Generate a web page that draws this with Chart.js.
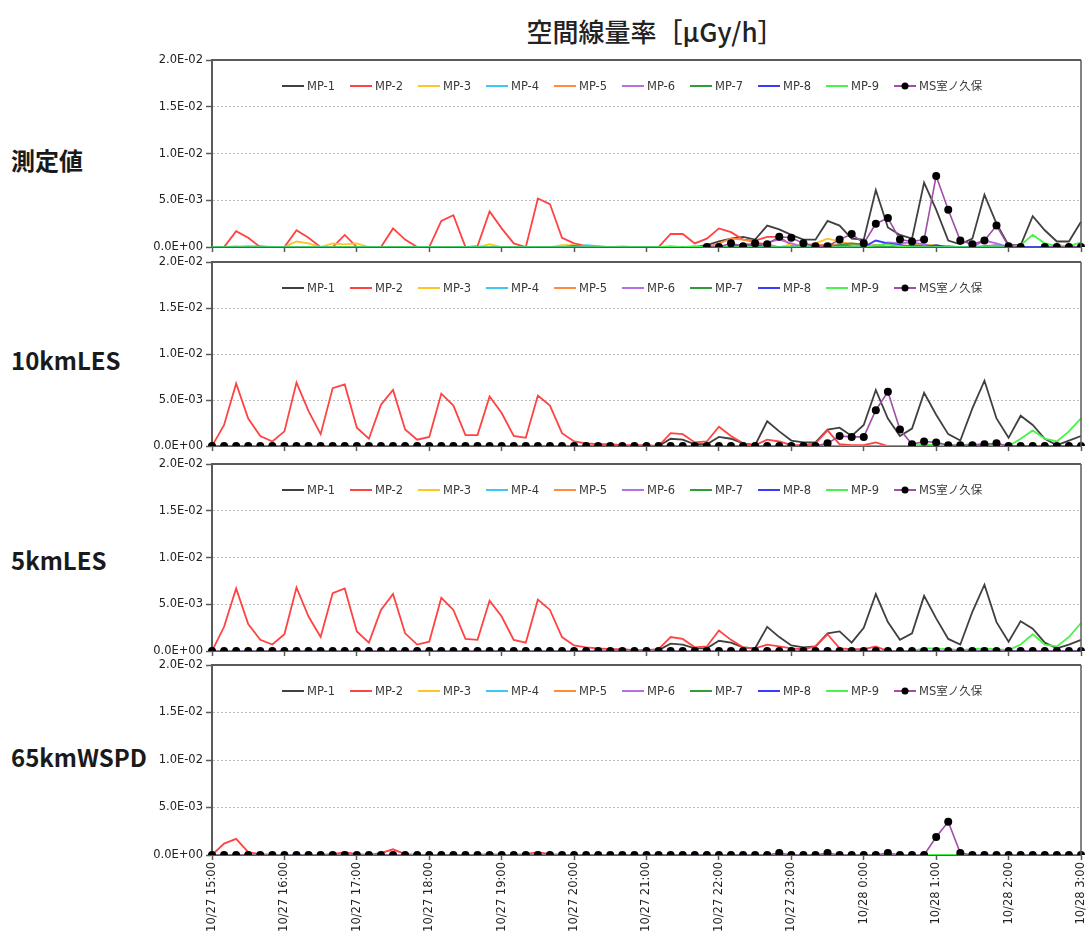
<!DOCTYPE html>
<html>
<head>
<meta charset="utf-8">
<script src="https://cdn.jsdelivr.net/npm/chart.js@4.4.1/dist/chart.umd.min.js"></script>
<style>
  body { margin: 0; background: #fff; }
  #wrap { position: relative; width: 1090px; height: 932px; overflow: hidden; background: #fff; }
  #wrap canvas { position: absolute; left: 140px; }
  .title { position: absolute; left: 455px; top: 12px; width: 400px; text-align: center;
           font: 500 26px "Noto Sans CJK JP", sans-serif; color: #222; }
  .side { position: absolute; left: 11px; font: bold 24px "Noto Sans CJK JP", sans-serif; color: #1a1a1a;
          line-height: 30px; height: 30px; }
</style>
</head>
<body>
<div id="wrap">
  <div class="title">空間線量率［μGy/h］</div>
  <div class="side" style="top:145px">測定値</div>
  <div class="side" style="top:345px">10kmLES</div>
  <div class="side" style="top:545px">5kmLES</div>
  <div class="side" style="top:742px">65kmWSPD</div>
  <canvas id="c0"></canvas>
  <canvas id="c1"></canvas>
  <canvas id="c2"></canvas>
  <canvas id="c3"></canvas>
</div>
<script>
const hours = ["10/27 15:00","10/27 16:00","10/27 17:00","10/27 18:00","10/27 19:00","10/27 20:00",
               "10/27 21:00","10/27 22:00","10/27 23:00","10/28 0:00","10/28 1:00","10/28 2:00","10/28 3:00"];
const seriesNames = ["MP-1","MP-2","MP-3","MP-4","MP-5","MP-6","MP-7","MP-8","MP-9","MS室ノ久保"];
const seriesColors = ["#404040","#ff4242","#ffc526","#3cc8f0","#ff8c3c","#b46ee6","#2f9e3a","#3a3aff","#4cf24c","#a04ea8"];
const yTicks = [0, 0.005, 0.01, 0.015, 0.02];

// one row = one hour (10 minute steps), last row = 3:00
const zeroLine = [
  0,0,0,0,0,0, 0,0,0,0,0,0, 0,0,0,0,0,0, 0,0,0,0,0,0, 0,0,0,0,0,0, 0,0,0,0,0,0,
  0,0,0,0,0,0, 0,0,0,0,0,0, 0,0,0,0,0,0, 0,0,0,0,0,0, 0,0,0,0,0,0, 0,0,0,0,0,0, 0];

// 測定値
const measMP1 = [
  0,0,0,0,0,0, 0,0,0,0,0,0, 0,0,0,0,0,0, 0,0,0,0,0,0, 0,0,0,0,0,0, 0,0,0,0,0,0,
  0,0,0,0,0,.0002,
  .0006,.0009,.0011,.0008,.0023,.0019,
  .0013,.0008,.0008,.0028,.0023,.0009,
  .0008,.0061,.0021,.0013,.0009,.0069,
  .004,.0007,.0003,.0009,.0056,.0025,
  .0002,.0002,.0033,.0018,.0006,.0006,
  .0027];
const measMP2 = [
  0,0,.0017,.001,0,0,
  0,.0018,.001,0,0,.0013,
  0,0,0,.002,.0008,0,
  0,.0028,.0034,0,.0001,.0038,
  .002,.0004,0,.0052,.0046,.001,
  .0004,.0001,0,0,0,0,
  0,0,.0014,.0014,.0004,.0009,
  .002,.0016,.0008,.0007,.0011,.0011,
  .0002,.0001,.0001,.0003,.0002,.0001,
  .0001,.0002,0,.0002,.0001,0,
  0,.0001,0,0,.0001,.0002,
  0,0,0,0,0,.0001,
  0];
const measMP3 = [
  0,0,.0001,0,0,0,
  0,.0006,.0004,0,.0004,.0003,
  .0004,0,0,0,0,0,
  0,0,0,0,0,.0003,
  0,0,0,0,0,.0002,
  .0002,0,0,0,.0001,0,
  0,0,0,0,0,0,
  0,0,.0003,.0004,0,0,
  .0003,.0002,.0004,.0009,.0006,.0003,
  0,0,0,0,.0002,.0003,
  .0002,0,0,0,0,.0001,
  0,0,0,0,.0002,.0001,
  0];
const measMP4 = [
  0,0,0,.0001,0,0, 0,0,0,0,0,0, 0,0,0,0,0,0, 0,0,0,0,0,0, 0,0,0,0,0,0, 0,.0002,.0001,0,0,0,
  0,0,0,0,0,0, 0,0,0,0,0,0, 0,0,0,0,0,0, 0,0,0,0,0,0, 0,0,0,0,0,.0002, .0001,0,0,0,0,0, 0];
const measMP5 = [
  0,0,0,0,0,0, 0,0,0,0,0,0, 0,0,0,0,0,0, 0,0,0,0,0,0, 0,0,0,0,0,0, 0,0,0,0,0,0,
  0,0,0,0,0,0,
  .0004,.0009,.0008,.0005,.0003,0,
  0,0,.0003,0,.0004,.0004,
  0,0,.0004,0,0,0,
  0,0,0,0,0,0, 0,0,0,0,0,0, 0];
const measMP6 = [
  0,0,0,0,.0001,0, 0,0,0,0,0,0, 0,0,0,0,0,0, 0,0,0,0,0,0, 0,0,0,0,0,0, 0,0,0,0,0,0,
  0,0,0,0,0,0,
  0,0,0,0,.0005,.0008,
  .0004,0,0,0,0,0,
  0,0,.0005,.0004,.0005,.0003,
  0,0,0,0,.0007,.0004,
  0,0,0,0,0,0, 0];
const measMP7 = [
  0,0,0,0,0,0, 0,0,0,0,0,0, 0,0,0,0,0,0, 0,0,0,0,0,0, 0,0,0,0,0,0, 0,0,0,0,0,0,
  0,0,0,0,0,0,
  0,0,0,0,0,0,
  0,0,0,0,.0002,.0004,
  .0003,0,0,0,.0002,.0001,
  0,0,0,0,0,0, 0,0,0,0,0,0, 0];
const measMP8 = [
  0,0,0,0,0,0, 0,0,0,0,0,0, 0,0,0,0,0,0, 0,0,0,0,0,0, 0,0,0,0,0,0, .0001,0,0,0,0,0,
  0,0,0,0,0,0,
  0,0,.0003,.0002,0,0,
  0,0,0,0,0,0,
  0,.0007,.0004,.0002,0,0,
  .0002,0,0,0,0,0,
  0,0,0,0,0,0, 0];
const measMP9 = [
  0,0,0,0,0,0, 0,0,0,0,0,0, 0,0,0,0,0,0, 0,0,0,0,0,0, 0,0,0,0,0,0, 0,0,0,0,0,0,
  0,0,.0001,0,.0001,0,
  0,0,0,0,0,0,
  0,0,0,0,0,0,
  0,.0002,.0003,.0001,0,0,
  0,0,0,0,0,0,
  0,.0002,.0013,.0004,.0001,.0001,
  .0005];
const measMS = [
  null,null,null,null,null,null, null,null,null,null,null,null, null,null,null,null,null,null,
  null,null,null,null,null,null, null,null,null,null,null,null, null,null,null,null,null,null,
  null,null,null,null,null,0,
  0,.0004,.0001,.0004,.0003,.0011,
  .001,.0004,.0001,.0001,.0008,.0014,
  .0004,.0025,.0031,.0008,.0006,.0008,
  .0076,.004,.0007,.0003,.0007,.0023,
  .0001,0,null,0,0,0,
  0];

// 10kmLES
const les10MP1 = [
  0,0,0,0,0,0, 0,0,0,0,0,0, 0,0,0,0,0,0, 0,0,0,0,0,0, 0,0,0,0,0,0, 0,0,0,0,0,0,
  0,0,.0008,.0007,.0002,.0002,
  .001,.0008,.0003,.0001,.0027,.0016,
  .0006,.0004,.0004,.0018,.002,.0011,
  .0023,.0061,.003,.0011,.0019,.0058,
  .0034,.0013,.0006,.0041,.0071,.003,
  .0009,.0033,.0023,.0008,.0001,.0006,
  .0011];
const les10MP2 = [
  0,.0023,.0068,.003,.0011,.0005,
  .0016,.0069,.0038,.0013,.0063,.0067,
  .002,.0008,.0045,.0061,.0018,.0007,
  .001,.0057,.0044,.0012,.0012,.0054,
  .0036,.0011,.0009,.0055,.0044,.0014,
  .0005,.0003,.0002,.0002,.0001,.0001,
  .0001,0,.0014,.0013,.0004,.0005,
  .0021,.0011,.0003,.0001,.0007,.0005,
  .0001,.0001,.0003,.0017,.0002,.0001,
  .0001,.0004,0,0,0,0,
  0,0,0,0,0,0, 0,0,0,0,0,0, 0];
const les10MP9 = [
  0,0,0,0,0,0, 0,0,0,0,0,0, 0,0,0,0,0,0, 0,0,0,0,0,0, 0,0,0,0,0,0, 0,0,0,0,0,0,
  0,0,0,0,0,0, 0,0,0,0,0,0, 0,0,0,0,0,0,
  0,0,0,0,0,.0002,
  .0001,.0001,.0001,.0002,.0002,.0001,
  0,.0008,.0017,.0008,.0005,.0016,
  .003];
const les10MS = [
  0,0,0,0,0,0, 0,0,0,0,0,0, 0,0,0,0,0,0, 0,0,0,0,0,0, 0,0,0,0,0,0, 0,0,0,0,0,0,
  0,0,0,0,0,0, 0,0,0,0,0,0,
  0,0,0,.0003,.0011,.001,
  .001,.0039,.0059,.0018,.0002,.0005,
  .0004,.0001,.0001,.0001,.0002,.0003,
  0,0,0,0,0,0,
  0];

// 5kmLES
const les5MP1 = [
  0,0,0,0,0,0, 0,0,0,0,0,0, 0,0,0,0,0,0, 0,0,0,0,0,0, 0,0,0,0,0,0, 0,0,0,0,0,0,
  .0001,.0001,.0008,.0007,.0003,.0003,
  .0011,.0009,.0004,.0003,.0026,.0015,
  .0006,.0004,.0005,.0019,.0021,.0009,
  .0025,.0061,.0031,.0012,.0019,.0059,
  .0035,.0013,.0007,.0042,.0071,.0031,
  .001,.0032,.0024,.0009,.0003,.0007,
  .0012];
const les5MP2 = [
  0,.0026,.0067,.0029,.0012,.0007,
  .0018,.0068,.0037,.0015,.0062,.0067,
  .0021,.0009,.0044,.0061,.0019,.0007,
  .001,.0057,.0044,.0013,.0012,.0054,
  .0037,.0012,.0009,.0055,.0044,.0015,
  .0006,.0004,.0003,.0002,.0002,.0001,
  .0001,.0002,.0015,.0013,.0004,.0005,
  .0022,.0012,.0004,.0003,.0007,.0005,
  .0003,.0002,.0005,.0018,.0003,.0002,
  .0002,.0005,0,0,0,0,
  0,0,0,0,0,0, 0,0,0,0,0,0, 0];
const les5MP9 = [
  0,0,0,0,0,0, 0,0,0,0,0,0, 0,0,0,0,0,0, 0,0,0,0,0,0, 0,0,0,0,0,0, 0,0,0,0,0,0,
  0,0,0,0,0,0, 0,0,0,0,0,0, 0,0,0,0,0,0,
  0,0,0,0,0,.0003,
  .0003,.0002,.0001,.0002,.0003,.0002,
  .0001,.0007,.0018,.0007,.0005,.0015,
  .003];

// 65kmWSPD
const wspdMP2 = [
  0,.0012,.0017,.0003,.0001,0,
  0,0,0,0,.0001,.0003,
  .0001,0,.0002,.0006,.0001,0,
  0,0,0,0,0,.0001,
  0,0,.0001,.0003,.0001,0,
  0,0,0,0,0,0,
  0,0,0,0,0,0, 0,0,0,0,0,0, 0,0,0,0,0,0, 0,0,0,0,0,0, 0,0,0,0,0,0, 0,0,0,0,0,0, 0];
const wspdMS = [
  0,0,0,0,0,0, 0,0,0,0,0,0, 0,0,0,0,0,0, 0,0,0,0,0,0, 0,0,0,0,0,0, 0,0,0,0,0,0,
  0,0,0,0,0,0,
  0,0,0,0,0,.0002,
  0,0,0,.0002,0,0,
  0,0,.0002,0,0,0,
  .0019,.0035,.0002,0,0,0,
  0,0,0,0,0,0,
  0];

// 10 minute categories
const labels = [];
hours.forEach((h, i) => {
    for (let m = 0; m < 60; m += 10) {
        if (i == hours.length - 1 && m > 0) break;
        labels.push(m == 0 ? h : h.replace(":00", ":" + m));
    }
});

const panels = [
    { id: "c0", top: 48,  height: 209, xH: 8,
      series: [measMP1, measMP2, measMP3, measMP4, measMP5, measMP6, measMP7, measMP8, measMP9, measMS] },
    { id: "c1", top: 250, height: 206, xH: 8,
      series: [les10MP1, les10MP2, zeroLine, zeroLine, zeroLine, zeroLine, zeroLine, zeroLine, les10MP9, les10MS] },
    { id: "c2", top: 452, height: 209, xH: 8,
      series: [les5MP1, les5MP2, zeroLine, zeroLine, zeroLine, zeroLine, zeroLine, zeroLine, les5MP9, zeroLine] },
    { id: "c3", top: 653, height: 279, xH: 77, showX: true,
      series: [zeroLine, wspdMP2, zeroLine, zeroLine, zeroLine, zeroLine, zeroLine, zeroLine, zeroLine, wspdMS] },
];

function sci(v) {
    if (v == 0) return "0.0E+00";
    let e = Math.floor(Math.log10(Math.abs(v)) + 1e-9);
    let m = v / Math.pow(10, e);
    return m.toFixed(1) + "E" + (e < 0 ? "-" : "+") + String(Math.abs(e)).padStart(2, "0");
}

const axisColor = "#5a5a5a";
const tickFont = { family: "'DejaVu Sans', 'Noto Sans CJK JP', sans-serif", size: 11.5 };

// top and right edge of the plot box
const framePlugin = {
    id: "frame",
    afterDatasetsDraw(chart) {
        const a = chart.chartArea, ctx = chart.ctx;
        ctx.save();
        ctx.strokeStyle = axisColor;
        ctx.lineWidth = 2;
        ctx.beginPath();
        ctx.moveTo(a.left, a.top);
        ctx.lineTo(a.right, a.top);
        ctx.stroke();
        ctx.lineWidth = 1.5;
        ctx.beginPath();
        ctx.moveTo(a.right, a.top);
        ctx.lineTo(a.right, a.bottom);
        ctx.stroke();
        ctx.restore();
    }
};

// legend sits inside the plot, one row
const innerLegend = {
    id: "innerLegend",
    afterDraw(chart) {
        const a = chart.chartArea, ctx = chart.ctx;
        const y = a.top + 26;
        ctx.save();
        ctx.font = "11.5px 'DejaVu Sans', 'Noto Sans CJK JP', sans-serif";
        ctx.textBaseline = "middle";
        seriesNames.forEach((name, i) => {
            const x = a.left + 70 + 68 * i;
            ctx.strokeStyle = seriesColors[i];
            ctx.lineWidth = 2;
            ctx.beginPath();
            ctx.moveTo(x, y);
            ctx.lineTo(x + 22, y);
            ctx.stroke();
            if (i == seriesNames.length - 1) {
                ctx.fillStyle = "#000";
                ctx.beginPath();
                ctx.arc(x + 11, y, 3.5, 0, Math.PI * 2);
                ctx.fill();
            }
            ctx.fillStyle = "#3a3a3a";
            ctx.fillText(name, x + 25, y + 1);
        });
        ctx.restore();
    }
};

panels.forEach(p => {
    const canvas = document.getElementById(p.id);
    canvas.width = 950;
    canvas.height = p.height;
    canvas.style.top = p.top + "px";

    const datasets = p.series.map((d, i) => {
        const isMS = i == seriesNames.length - 1;
        return {
            label: seriesNames[i],
            data: d,
            borderColor: seriesColors[i],
            backgroundColor: seriesColors[i],
            borderWidth: isMS ? 1.6 : 1.8,
            tension: 0,
            spanGaps: false,
            order: seriesNames.length - i,
            pointRadius: isMS ? 4 : 0,
            pointBackgroundColor: "#000",
            pointBorderColor: "#000",
            pointBorderWidth: 0,
        };
    });
    datasets[datasets.length - 1].order = 0;

    new Chart(canvas.getContext("2d"), {
        type: "line",
        data: { labels: labels, datasets: datasets },
        options: {
            responsive: false,
            animation: false,
            events: [],
            layout: { padding: { top: 12, right: 9, left: 0, bottom: 0 } },
            plugins: { legend: { display: false }, tooltip: { enabled: false } },
            scales: {
                x: {
                    offset: false,
                    border: { display: true, color: axisColor, width: 2 },
                    grid: {
                        drawOnChartArea: false,
                        drawTicks: true,
                        tickLength: 5,
                        tickWidth: 1.5,
                        tickColor: c => c.index % 6 == 0 ? axisColor : "rgba(0,0,0,0)",
                    },
                    ticks: {
                        display: !!p.showX,
                        autoSkip: false,
                        maxRotation: 90,
                        minRotation: 90,
                        padding: 2,
                        color: "#222",
                        font: tickFont,
                        callback: (v, idx) => idx % 6 == 0 ? labels[idx] : "",
                    },
                    afterFit: s => { s.height = p.xH; s.paddingLeft = 0; s.paddingRight = 0; },
                },
                y: {
                    min: 0,
                    max: 0.02,
                    afterBuildTicks: s => { s.ticks = yTicks.map(v => ({ value: v })); },
                    border: { display: true, color: axisColor, width: 2, dash: [2, 2] },
                    grid: {
                        color: c => (c.index == 0 || c.index == yTicks.length - 1) ? "rgba(0,0,0,0)" : "#bdbdbd",
                        lineWidth: 1,
                        drawTicks: true,
                        tickLength: 6,
                        tickColor: axisColor,
                        tickWidth: 1.5,
                    },
                    ticks: {
                        padding: 3,
                        color: "#222",
                        font: tickFont,
                        callback: v => sci(v),
                    },
                    afterFit: s => { s.width = 72; },
                },
            },
        },
        plugins: [framePlugin, innerLegend],
    });
});
</script>
</body>
</html>
